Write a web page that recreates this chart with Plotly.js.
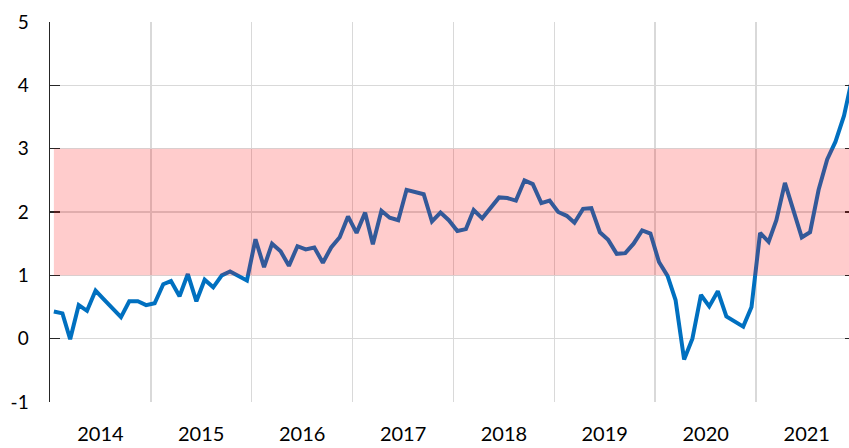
<!DOCTYPE html>
<html>
<head>
<meta charset="utf-8">
<script src="https://cdn.plot.ly/plotly-3.0.1.min.js"></script>
<style>html,body{margin:0;padding:0;background:#fff;}#chart{width:849px;height:448px;}</style>
</head>
<body>
<div id="chart"></div>
<script>
// Monthly series, Jan 2014 – Dec 2021
var startYear = 2014;
var values2014 = [0.43, 0.40, -0.01, 0.53, 0.44, 0.76, 0.62, 0.48, 0.34, 0.59, 0.59, 0.53];
var values2015 = [0.56, 0.86, 0.91, 0.67, 1.02, 0.59, 0.93, 0.81, 1.00, 1.06, 0.98, 0.92];
var values2016 = [1.57, 1.13, 1.50, 1.38, 1.15, 1.46, 1.41, 1.44, 1.20, 1.44, 1.60, 1.93];
var values2017 = [1.67, 1.99, 1.49, 2.02, 1.91, 1.87, 2.35, 2.31, 2.28, 1.85, 1.99, 1.87];
var values2018 = [1.70, 1.73, 2.03, 1.90, 2.07, 2.23, 2.22, 2.18, 2.50, 2.44, 2.14, 2.18];
var values2019 = [2.00, 1.94, 1.83, 2.05, 2.06, 1.68, 1.56, 1.34, 1.35, 1.50, 1.71, 1.66];
var values2020 = [1.21, 0.99, 0.61, -0.33, 0.00, 0.69, 0.51, 0.75, 0.35, 0.27, 0.19, 0.50];
var values2021 = [1.67, 1.53, 1.87, 2.46, 2.05, 1.60, 1.68, 2.35, 2.83, 3.11, 3.52, 4.12];

var targetLow = 1;
var targetHigh = 3;

var yTickVals = [-1, 0, 1, 2, 3, 4, 5];
var yTickText = ['-1', '0', '1', '2', '3', '4', '5'];

var values = [].concat(values2014, values2015, values2016, values2017,
                       values2018, values2019, values2020, values2021);

// category dates (mid-month)
var dates = [];
for (var i = 0; i < values.length; i++) {
  var y = startYear + Math.floor(i / 12);
  var m = (i % 12) + 1;
  dates.push(y + '-' + (m < 10 ? '0' + m : m) + '-15');
}

var fontFam = 'Lato, "Open Sans", sans-serif';

var traces = [
  {
    x: dates, y: values, type: 'scatter', mode: 'lines',
    line: {color: '#0070C0', width: 4},
    hoverinfo: 'skip', showlegend: false
  },
  {
    x: [dates[0]], y: [null], type: 'scatter', mode: 'lines',
    yaxis: 'y2', showlegend: false, hoverinfo: 'skip'
  }
];

var layout = {
  width: 849, height: 448,
  margin: {l: 50, r: 0, t: 22, b: 46, pad: 0},
  paper_bgcolor: '#ffffff', plot_bgcolor: '#ffffff',
  font: {family: fontFam, color: '#000000'},
  showlegend: false,
  xaxis: {
    type: 'date',
    range: ['2014-01-01', '2021-12-03'],
    tick0: '2014-01-01', dtick: 'M12',
    tickformat: '%Y', ticklabelmode: 'period',
    showgrid: true, gridcolor: '#d9d9d9', gridwidth: 1.5,
    ticks: '', showline: false, zeroline: false,
    tickfont: {family: fontFam, size: 20, color: '#000'},
    ticklabelstandoff: 18
  },
  yaxis: {
    range: [-1, 5], tickvals: yTickVals, ticktext: yTickText,
    showgrid: true, gridcolor: '#d9d9d9', gridwidth: 1.5,
    zeroline: false,
    showline: true, linecolor: '#262626', linewidth: 1.5,
    ticks: 'inside', ticklen: 10, tickcolor: '#262626', tickwidth: 1.5,
    tickfont: {family: fontFam, size: 19, color: '#000'},
    ticklabelstandoff: 16
  },
  yaxis2: {
    overlaying: 'y', side: 'right', range: [-1, 5], tickvals: yTickVals,
    showgrid: false, zeroline: false, showline: false,
    ticks: 'inside', ticklen: 4, tickcolor: '#262626', tickwidth: 1.5,
    showticklabels: false
  },
  shapes: [
    {
      type: 'rect', xref: 'x', yref: 'y', layer: 'above',
      x0: dates[0], x1: dates[dates.length - 1],
      y0: targetLow, y1: targetHigh,
      fillcolor: 'rgba(255,0,0,0.2)', line: {width: 0}
    }
  ]
};

Plotly.newPlot('chart', traces, layout, {staticPlot: true, displayModeBar: false});
</script>
</body>
</html>
